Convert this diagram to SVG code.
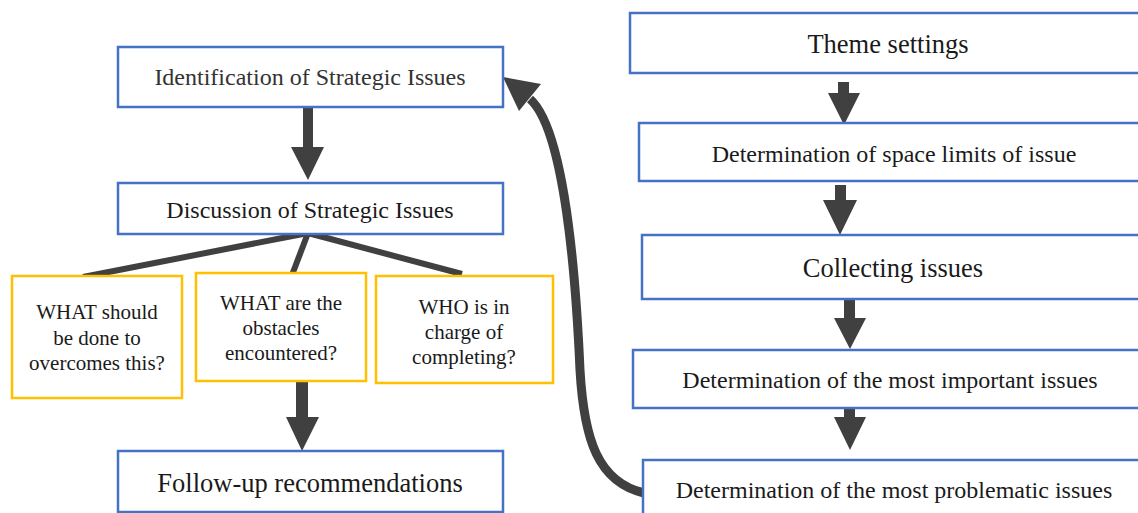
<svg xmlns="http://www.w3.org/2000/svg" width="1138" height="513" viewBox="0 0 1138 513">
<style>
.blue{fill:#fff;stroke:#4472C4;stroke-width:2.5}
.yel{fill:#fff;stroke:#FFC000;stroke-width:2.5}
.txt text{fill:#1a1a1a;text-anchor:middle}
.t24{font-size:24px}
.t26{font-size:26.5px}
.t21{font-size:21px}
.arr{fill:#404040}
.ln{stroke:#404040;stroke-width:6;fill:none}
</style>
<rect width="1138" height="513" fill="#fff"/>
<g id="connectors">
<polygon class="arr" points="303,107 313,107 313,147 324,147 308,180 291,147 303,147"/>
<line class="ln" x1="308" y1="233" x2="83" y2="277"/>
<line class="ln" x1="308" y1="233" x2="292" y2="275"/>
<line class="ln" x1="308" y1="233" x2="462" y2="274"/>
<polygon class="arr" points="296,381 308,381 308,417 319,417 302,451 286,417 296,417"/>
<polygon class="arr" points="838,82 849,82 849,93 860,93 844,125 828,93 838,93"/>
<polygon class="arr" points="835,185 846,185 846,200 857,200 840,235 823,200 835,200"/>
<polygon class="arr" points="844,299 855,299 855,318 866,318 850,349 834,318 844,318"/>
<polygon class="arr" points="844,408 855,408 855,417 866,417 850,450 834,417 844,417"/>
<path class="ln" style="stroke-width:9" d="M 644,493 C 598,482 584,440 580,370 C 576,280 565,130 530,99"/>
<polygon class="arr" points="503,77 541,84 519,111"/>
</g>
<g class="txt" font-family="Liberation Serif, Times New Roman, DejaVu Serif, serif">
<g id="identification">
<rect class="blue" x="118" y="47" width="385" height="60"/>
<text class="t24" x="310" y="85" style="fill:#333">Identification of Strategic Issues</text>
</g>
<g id="discussion">
<rect class="blue" x="118" y="183" width="385" height="51"/>
<text class="t24" x="310" y="218">Discussion of Strategic Issues</text>
</g>
<g id="what-should">
<rect class="yel" x="12" y="276" width="170" height="122"/>
<text class="t21" x="97" y="319">WHAT should</text>
<text class="t21" x="97" y="345">be done to</text>
<text class="t21" x="97" y="370">overcomes this?</text>
</g>
<g id="what-obstacles">
<rect class="yel" x="196" y="273" width="170" height="108"/>
<text class="t21" x="281" y="310">WHAT are the</text>
<text class="t21" x="281" y="335">obstacles</text>
<text class="t21" x="281" y="360">encountered?</text>
</g>
<g id="who">
<rect class="yel" x="376" y="276" width="177" height="107"/>
<text class="t21" x="464" y="314">WHO is in</text>
<text class="t21" x="464" y="339">charge of</text>
<text class="t21" x="464" y="364">completing?</text>
</g>
<g id="follow-up">
<rect class="blue" x="118" y="451" width="385" height="61"/>
<text class="t26" x="310" y="492">Follow-up recommendations</text>
</g>
<g id="theme">
<rect class="blue" x="630" y="13" width="515" height="60"/>
<text class="t26" x="888" y="53">Theme settings</text>
</g>
<g id="space-limits">
<rect class="blue" x="639" y="123" width="506" height="58"/>
<text class="t24" x="894" y="162">Determination of space limits of issue</text>
</g>
<g id="collecting">
<rect class="blue" x="642" y="235" width="503" height="64"/>
<text class="t26" x="893" y="277">Collecting issues</text>
</g>
<g id="important">
<rect class="blue" x="633" y="350" width="512" height="58"/>
<text class="t24" x="890" y="388">Determination of the most important issues</text>
</g>
<g id="problematic">
<rect class="blue" x="643" y="460" width="502" height="60"/>
<text class="t24" x="894" y="498">Determination of the most problematic issues</text>
</g>
</g>
</svg>
